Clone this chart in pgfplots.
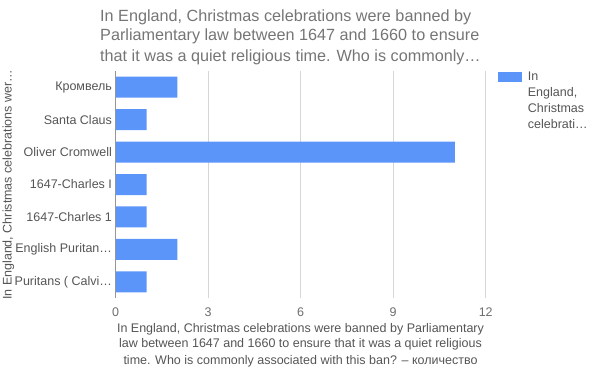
\documentclass[border=0pt]{standalone}
\usepackage{fontspec}
\setmainfont{Liberation Sans}
\usepackage{pgfplots}
\pgfplotsset{compat=1.18}
\definecolor{barblue}{RGB}{91,149,249}
\definecolor{gridgray}{RGB}{214,214,214}
\definecolor{basegray}{RGB}{150,150,150}
\definecolor{titlegray}{RGB}{117,117,117}
\definecolor{labelgray}{RGB}{85,85,85}
\definecolor{tickgray}{RGB}{110,110,110}
\begin{document}
\begin{tikzpicture}[x=1bp,y=1bp]
\useasboundingbox (0,0) rectangle (600,371);
\begin{axis}[
  at={(115.7bp,73bp)}, anchor=south west,
  scale only axis, width=370bp, height=227bp,
  xbar, bar width=21bp,
  xmin=0, xmax=12, ymin=-0.5, ymax=6.5,
  xtick={0,3,6,9,12},
  ytick={0,1,2,3,4,5,6},
  yticklabels={Puritans ( Calvi…, English Puritan…, 1647-Charles 1, 1647-Charles I, Oliver Cromwell, Santa Claus, Кромвель},
  axis line style={draw=none},
  tick style={draw=none},
  xmajorgrids, major grid style={gridgray, line width=0.8bp},
  ymajorgrids=false,
  xticklabel style={font=\fontsize{12.5bp}{15bp}\selectfont, text=tickgray, yshift=-6bp},
  yticklabel style={font=\fontsize{12.5bp}{15bp}\selectfont, text=labelgray, xshift=4bp},
  /pgf/number format/assume math mode=true,
  clip=false,
]
\addplot[fill=barblue, draw=none] coordinates {
  (1,0) (2,1) (1,2) (1,3) (11,4) (1,5) (2,6)
};
\draw[basegray, line width=1bp] (axis cs:0,-0.5) -- (axis cs:0,6.5);
\end{axis}
% title
\node[anchor=base west, text=titlegray, font=\fontsize{16.2bp}{20.5bp}\selectfont, align=left, inner sep=0pt] at (100,350) {In England, Christmas celebrations were banned by};
\node[anchor=base west, text=titlegray, font=\fontsize{16.2bp}{20.5bp}\selectfont, inner sep=0pt] at (100,330.3) {Parliamentary law between 1647 and 1660 to ensure};
\node[anchor=base west, text=titlegray, font=\fontsize{16.2bp}{20.5bp}\selectfont, inner sep=0pt] at (100,309.3) {that it was a quiet religious time. Who is commonly…};
% x axis title
\node[anchor=base, text=labelgray, font=\fontsize{12.5bp}{15bp}\selectfont, inner sep=0pt] at (300.5,39) {In England, Christmas celebrations were banned by Parliamentary};
\node[anchor=base, text=labelgray, font=\fontsize{12.5bp}{15bp}\selectfont, inner sep=0pt] at (300.5,23.3) {law between 1647 and 1660 to ensure that it was a quiet religious};
\node[anchor=base, text=labelgray, font=\fontsize{12.5bp}{15bp}\selectfont, inner sep=0pt] at (300.5,7) {time. Who is commonly associated with this ban? – количество};
% y axis title
\node[anchor=base west, rotate=90, text=labelgray, font=\fontsize{12.5bp}{15bp}\selectfont, inner sep=0pt] at (11.5,71) {In England, Christmas celebrations wer…};
% legend
\fill[barblue] (498,289) rectangle (522,299.3);
\node[anchor=base west, text=labelgray, font=\fontsize{12.5bp}{15bp}\selectfont, inner sep=0pt] at (527.7,290.3) {In};
\node[anchor=base west, text=labelgray, font=\fontsize{12.5bp}{15bp}\selectfont, inner sep=0pt] at (527.7,274.5) {England,};
\node[anchor=base west, text=labelgray, font=\fontsize{12.5bp}{15bp}\selectfont, inner sep=0pt] at (527.7,258.5) {Christmas};
\node[anchor=base west, text=labelgray, font=\fontsize{12.5bp}{15bp}\selectfont, inner sep=0pt] at (527.7,242.7) {celebrati…};
\end{tikzpicture}
\end{document}
